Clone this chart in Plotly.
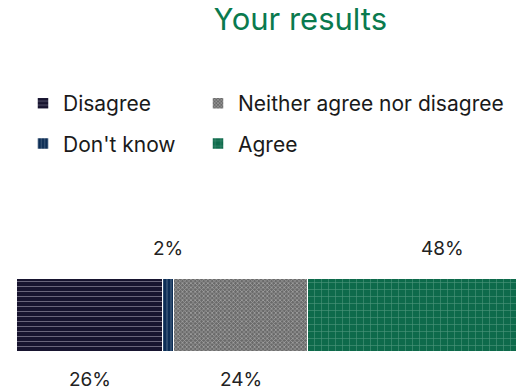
import plotly.graph_objects as go

categories = ["Disagree", "Don't know", "Neither agree nor disagree", "Agree"]
values = [26, 2, 24, 48]
labels = ["26%", "2%", "24%", "48%"]
colors = ["#17142f", "#0c2d55", "#6a6a6a", "#0e6a4b"]
fgcolors = ["#c9c6d6", "#b9c6d8", "#d6d6d6", "#8fc3ae"]
shapes = ["-", "|", "x", "+"]
sizes = [5, 4, 3, 7]
solid = [0.18, 0.2, 0.45, 0.16]
legend_ids = ["legend", "legend", "legend2", "legend2"]

# page has an 8px body margin, so the figure is sized to fit the window
W, H = 516, 383
fig = go.Figure()
for i, c in enumerate(categories):
    fig.add_trace(go.Bar(
        y=["Your results"], x=[values[i]], name=c, orientation="h",
        marker=dict(color=colors[i], line=dict(color="white", width=1.5),
                    pattern=dict(shape=shapes[i], fgcolor=fgcolors[i], bgcolor=colors[i],
                                 size=sizes[i], solidity=solid[i], fillmode="overlay")),
        legend=legend_ids[i], legendgroup=c, hoverinfo="skip",
    ))

cum = 0
for i, v in enumerate(values):
    center = cum + v / 2
    cum += v
    above = i % 2 == 1
    fig.add_annotation(x=center, xref="x", y=1 if above else 0, yref="paper",
                       text=labels[i], showarrow=False,
                       yanchor="middle", yshift=31 if above else -27,
                       font=dict(size=19, color="#222222", family="Inter"))

leg_common = dict(font=dict(size=21, color="#1a1a1a", family="Inter"),
                  traceorder="grouped", tracegroupgap=10, bgcolor="rgba(0,0,0,0)",
                  xref="container", yref="container", xanchor="left", yanchor="top",
                  itemwidth=30)
fig.update_layout(
    width=W, height=H,
    barmode="stack", bargap=0,
    margin=dict(l=9, r=0, t=271, b=39, autoexpand=False),
    paper_bgcolor="white", plot_bgcolor="white",
    title=dict(text="Your results", x=292 / W, xref="container", xanchor="center",
               y=1, yref="container", yanchor="top", pad=dict(t=0, b=0, l=0, r=0),
               font=dict(size=31, color="#0a7a4e", family="Inter")),
    xaxis=dict(range=[0, 507 / 5.6], visible=False, fixedrange=True),
    yaxis=dict(visible=False, fixedrange=True),
    legend=dict(x=15 / W, y=1 - 75 / H, **leg_common),
    legend2=dict(x=190 / W, y=1 - 75 / H, **leg_common),
    showlegend=True,
)
fig.write_html("out.html")
